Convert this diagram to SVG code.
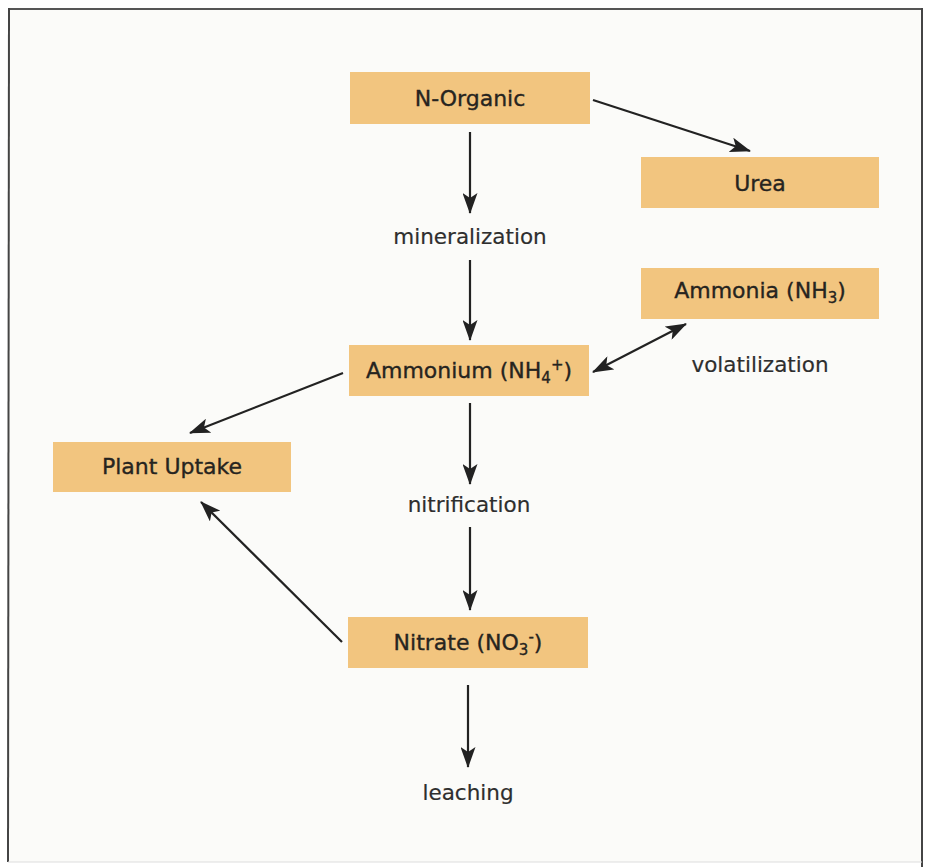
<svg xmlns="http://www.w3.org/2000/svg" width="927" height="867" viewBox="0 0 927 867">
<defs>
<style>
.box{fill:#f2c57f;}
.bt{font-family:"DejaVu Sans",Verdana,sans-serif;font-size:22px;fill:#262420;stroke:#262420;stroke-width:0.35;text-anchor:middle;}
.lb{font-family:"DejaVu Sans",Verdana,sans-serif;font-size:21.5px;fill:#2e2e2e;stroke:#2e2e2e;stroke-width:0.2;text-anchor:middle;}
.sm{font-size:15px;}
.cn{stroke:#222;stroke-width:2.2;fill:none;}
</style>
<marker id="ah" viewBox="0 0 21 15" refX="20" refY="7.5" markerWidth="21" markerHeight="15" markerUnits="userSpaceOnUse" orient="auto-start-reverse">
<path d="M0,0 L21,7.5 L0,15 L5,7.5 Z" fill="#222"/>
</marker>
</defs>
<rect x="0" y="0" width="927" height="867" fill="#ffffff"/>
<rect x="9" y="9" width="913" height="853" fill="#fbfbf9"/>
<g id="frame">
<line x1="8" y1="9" x2="923" y2="9" stroke="#555" stroke-width="2"/>
<line x1="9" y1="8" x2="8" y2="862" stroke="#444" stroke-width="2"/>
<line x1="922" y1="8" x2="922" y2="867" stroke="#444" stroke-width="2"/>
<line x1="8" y1="862" x2="922" y2="862" stroke="#ddd" stroke-width="1"/>
</g>
<g id="connectors">
<line class="cn" x1="593" y1="100" x2="750" y2="151" marker-end="url(#ah)"/>
<line class="cn" x1="470" y1="132" x2="470" y2="213" marker-end="url(#ah)"/>
<line class="cn" x1="470" y1="260" x2="470" y2="340" marker-end="url(#ah)"/>
<line class="cn" x1="593" y1="372" x2="686" y2="324" marker-start="url(#ah)" marker-end="url(#ah)"/>
<line class="cn" x1="343" y1="373" x2="190" y2="433" marker-end="url(#ah)"/>
<line class="cn" x1="470" y1="403" x2="470" y2="484" marker-end="url(#ah)"/>
<line class="cn" x1="470" y1="527" x2="470" y2="610" marker-end="url(#ah)"/>
<line class="cn" x1="342" y1="642" x2="201" y2="502" marker-end="url(#ah)"/>
<line class="cn" x1="468" y1="685" x2="468" y2="767" marker-end="url(#ah)"/>
</g>
<g id="n-organic">
<rect class="box" x="350" y="72" width="240" height="52"/>
<text class="bt" x="470" y="106">N-Organic</text>
</g>
<g id="urea">
<rect class="box" x="641" y="157" width="238" height="51"/>
<text class="bt" x="760" y="191">Urea</text>
</g>
<g id="ammonia">
<rect class="box" x="641" y="268" width="238" height="51"/>
<text class="bt" x="760" y="298">Ammonia (NH<tspan class="sm" dy="5">3</tspan><tspan dy="-5">)</tspan></text>
</g>
<g id="ammonium">
<rect class="box" x="349" y="345" width="240" height="51"/>
<text class="bt" x="469" y="378">Ammonium (NH<tspan class="sm" dy="5">4</tspan><tspan class="sm" dy="-13">+</tspan><tspan dy="8">)</tspan></text>
</g>
<g id="plant-uptake">
<rect class="box" x="53" y="442" width="238" height="50"/>
<text class="bt" x="172" y="474">Plant Uptake</text>
</g>
<g id="nitrate">
<rect class="box" x="348" y="617" width="240" height="51"/>
<text class="bt" x="468" y="650">Nitrate (NO<tspan class="sm" dy="5">3</tspan><tspan class="sm" dy="-13">-</tspan><tspan dy="8">)</tspan></text>
</g>
<g id="labels">
<text class="lb" x="470" y="244">mineralization</text>
<text class="lb" x="760" y="372">volatilization</text>
<text class="lb" x="469" y="512">nitrification</text>
<text class="lb" x="468" y="800">leaching</text>
</g>
</svg>
